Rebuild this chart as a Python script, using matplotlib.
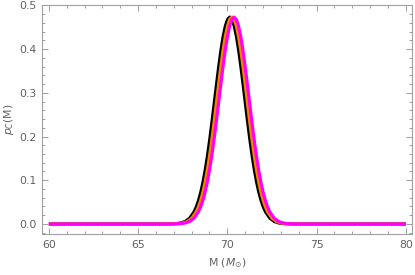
import numpy as np
import matplotlib.pyplot as plt
from matplotlib.ticker import MultipleLocator

# offsets from each peak (solar masses) and the density
offsets = [-11.0, -4.0, -3.5, -3.0, -2.75, -2.5, -2.25, -2.0, -1.875, -1.75,
           -1.625, -1.5, -1.375, -1.25, -1.125, -1.0, -0.875, -0.75, -0.625,
           -0.5, -0.375, -0.25, -0.125, 0.0, 0.125, 0.25, 0.375, 0.5, 0.625,
           0.75, 0.875, 1.0, 1.125, 1.25, 1.375, 1.5, 1.625, 1.75, 1.875, 2.0,
           2.25, 2.5, 2.75, 3.0, 3.5, 4.0, 11.0]
density = [0.0, 0.0, 0.0001, 0.0008, 0.0022, 0.0056, 0.0131, 0.0278, 0.0392,
           0.0540, 0.0728, 0.0960, 0.1239, 0.1563, 0.1929, 0.2329, 0.2749,
           0.3175, 0.3586, 0.3962, 0.4281, 0.4525, 0.4678, 0.4730, 0.4678,
           0.4525, 0.4281, 0.3962, 0.3586, 0.3175, 0.2749, 0.2329, 0.1929,
           0.1563, 0.1239, 0.0960, 0.0728, 0.0540, 0.0392, 0.0278, 0.0131,
           0.0056, 0.0022, 0.0008, 0.0001, 0.0, 0.0]

peaks = [70.14, 70.26, 70.38]
colors = ['black', '#FF8000', '#FF00FF']

fig = plt.figure(figsize=(4.15, 2.75), dpi=100)
ax = fig.add_axes([0.1005, 0.149, 0.8923, 0.8317])

for peak, color in zip(peaks, colors):
    x = np.clip(np.array(offsets) + peak, 60, 80)
    ax.plot(x, density, color=color, lw=2.3, solid_capstyle='butt',
            solid_joinstyle='round')

ax.set_xlim(59.6, 80.35)
ax.set_ylim(-0.023, 0.5)
ax.xaxis.set_major_locator(MultipleLocator(5))
ax.xaxis.set_minor_locator(MultipleLocator(1))
ax.yaxis.set_major_locator(MultipleLocator(0.1))
ax.yaxis.set_minor_locator(MultipleLocator(0.02))

grey = '#a0a0a0'
text_grey = '#606060'
for s in ax.spines.values():
    s.set_color(grey)
    s.set_linewidth(0.8)
ax.tick_params(which='both', direction='in', top=True, right=True,
               color=grey, labelcolor=text_grey, labelsize=7.8, width=0.7)
ax.tick_params(which='major', length=4, pad=4)
ax.tick_params(which='minor', length=2)
ax.yaxis.set_major_formatter(plt.FuncFormatter(lambda v, p: f'{v:.1f}'))

ax.set_xlabel(r'M ($M_{\odot}$)', color=text_grey, fontsize=7.8, labelpad=5)
ax.set_ylabel(r'$p_C$(M)', color=text_grey, fontsize=7.8, labelpad=2)

fig.savefig('out.png', dpi=100)
